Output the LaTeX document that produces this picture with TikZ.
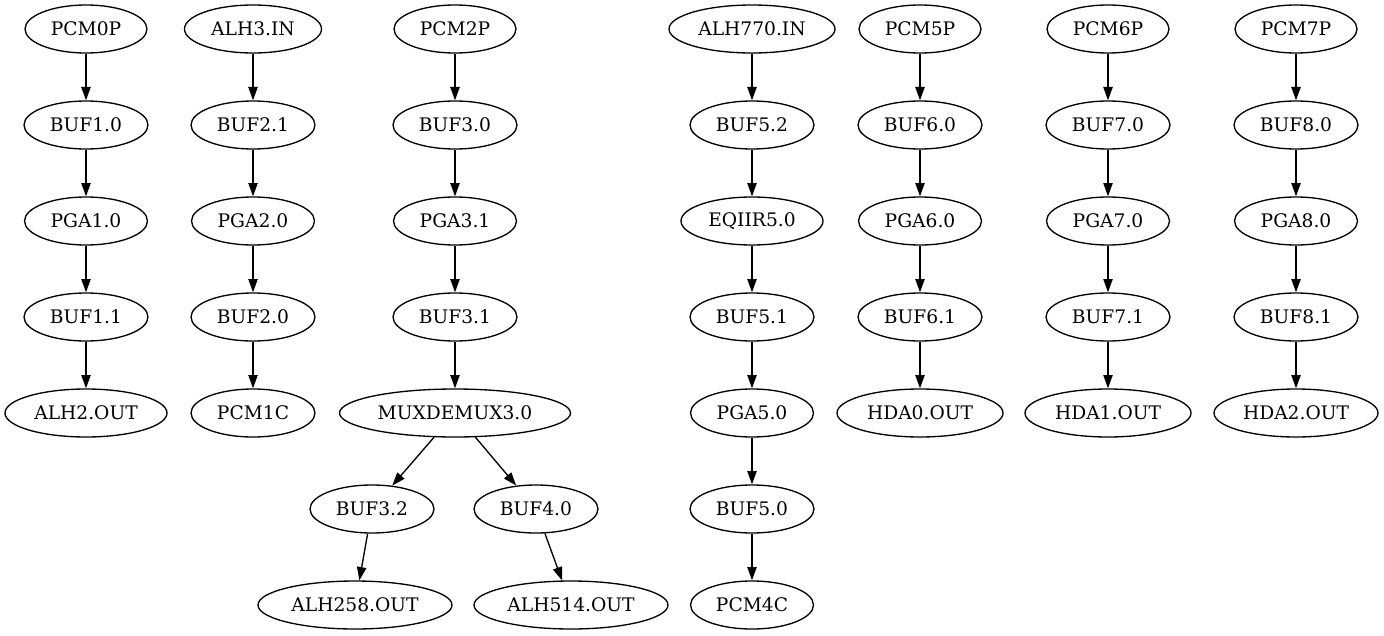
\documentclass[tikz,border=0pt]{standalone}
\usepackage{fontspec}
\setmainfont{DejaVu Serif}
\usetikzlibrary{shapes.geometric,arrows.meta}
\newcommand\gvnode[5]{\node[gv, minimum width={0.75*#4pt}] (#1) at (#2,#3) {#5};}
\tikzset{
  gv/.style={draw, ellipse, line width=1pt, minimum height=36pt, inner sep=0pt,
    font=\fontsize{14pt}{17pt}\selectfont},
  gvedge/.style={line width=1pt, -{Triangle[length=10pt,width=7pt]}}
}
\begin{document}
\begin{tikzpicture}[x=0.75pt,y=-0.75pt]
\useasboundingbox (0,0) rectangle (1384,635);
% rows
\def\ra{29}\def\rb{125}\def\rc{221}\def\rd{317}\def\re{413}\def\rf{509}\def\rg{605}
% column 1
\gvnode{pcm0p}{86}{\ra}{122}{PCM0P}
\gvnode{buf10}{86}{\rb}{124}{BUF1.0}
\gvnode{pga10}{86}{\rc}{123}{PGA1.0}
\gvnode{buf11}{86}{\rd}{124}{BUF1.1}
\gvnode{alh2out}{86}{\re}{162}{ALH2.OUT}
% column 2
\gvnode{alh3in}{253}{\ra}{137}{ALH3.IN}
\gvnode{buf21}{253}{\rb}{124}{BUF2.1}
\gvnode{pga20}{253}{\rc}{123}{PGA2.0}
\gvnode{buf20}{253}{\rd}{124}{BUF2.0}
\gvnode{pcm1c}{253}{\re}{124}{PCM1C}
% column 3
\gvnode{pcm2p}{455}{\ra}{122}{PCM2P}
\gvnode{buf30}{455}{\rb}{124}{BUF3.0}
\gvnode{pga31}{455}{\rc}{123}{PGA3.1}
\gvnode{buf31}{455}{\rd}{124}{BUF3.1}
\gvnode{mux30}{455}{\re}{231}{MUXDEMUX3.0}
\gvnode{buf32}{372}{\rf}{124}{BUF3.2}
\gvnode{buf40}{536}{\rf}{124}{BUF4.0}
\gvnode{alh258}{355}{\rg}{194}{ALH258.OUT}
\gvnode{alh514}{571}{\rg}{194}{ALH514.OUT}
% column 4
\gvnode{alh770}{752}{\ra}{166}{ALH770.IN}
\gvnode{buf52}{752}{\rb}{124}{BUF5.2}
\gvnode{eqiir}{752}{\rc}{142}{EQIIR5.0}
\gvnode{buf51}{752}{\rd}{124}{BUF5.1}
\gvnode{pga50}{752}{\re}{123}{PGA5.0}
\gvnode{buf50}{752}{\rf}{124}{BUF5.0}
\gvnode{pcm4c}{752}{\rg}{123}{PCM4C}
% column 5
\gvnode{pcm5p}{920}{\ra}{122}{PCM5P}
\gvnode{buf60}{920}{\rb}{124}{BUF6.0}
\gvnode{pga60}{920}{\rc}{123}{PGA6.0}
\gvnode{buf61}{920}{\rd}{124}{BUF6.1}
\gvnode{hda0}{920}{\re}{166}{HDA0.OUT}
% column 6
\gvnode{pcm6p}{1108}{\ra}{122}{PCM6P}
\gvnode{buf70}{1108}{\rb}{124}{BUF7.0}
\gvnode{pga70}{1108}{\rc}{123}{PGA7.0}
\gvnode{buf71}{1108}{\rd}{124}{BUF7.1}
\gvnode{hda1}{1108}{\re}{166}{HDA1.OUT}
% column 7
\gvnode{pcm7p}{1296}{\ra}{122}{PCM7P}
\gvnode{buf80}{1296}{\rb}{124}{BUF8.0}
\gvnode{pga80}{1296}{\rc}{123}{PGA8.0}
\gvnode{buf81}{1296}{\rd}{124}{BUF8.1}
\gvnode{hda2}{1296}{\re}{164}{HDA2.OUT}
% edges
\draw[gvedge] (pcm0p) -- (buf10);
\draw[gvedge] (buf10) -- (pga10);
\draw[gvedge] (pga10) -- (buf11);
\draw[gvedge] (buf11) -- (alh2out);
\draw[gvedge] (alh3in) -- (buf21);
\draw[gvedge] (buf21) -- (pga20);
\draw[gvedge] (pga20) -- (buf20);
\draw[gvedge] (buf20) -- (pcm1c);
\draw[gvedge] (pcm2p) -- (buf30);
\draw[gvedge] (buf30) -- (pga31);
\draw[gvedge] (pga31) -- (buf31);
\draw[gvedge] (buf31) -- (mux30);
\draw[gvedge] (mux30) -- (buf32);
\draw[gvedge] (mux30) -- (buf40);
\draw[gvedge] (buf32) -- (alh258);
\draw[gvedge] (buf40) -- (alh514);
\draw[gvedge] (alh770) -- (buf52);
\draw[gvedge] (buf52) -- (eqiir);
\draw[gvedge] (eqiir) -- (buf51);
\draw[gvedge] (buf51) -- (pga50);
\draw[gvedge] (pga50) -- (buf50);
\draw[gvedge] (buf50) -- (pcm4c);
\draw[gvedge] (pcm5p) -- (buf60);
\draw[gvedge] (buf60) -- (pga60);
\draw[gvedge] (pga60) -- (buf61);
\draw[gvedge] (buf61) -- (hda0);
\draw[gvedge] (pcm6p) -- (buf70);
\draw[gvedge] (buf70) -- (pga70);
\draw[gvedge] (pga70) -- (buf71);
\draw[gvedge] (buf71) -- (hda1);
\draw[gvedge] (pcm7p) -- (buf80);
\draw[gvedge] (buf80) -- (pga80);
\draw[gvedge] (pga80) -- (buf81);
\draw[gvedge] (buf81) -- (hda2);
\end{tikzpicture}
\end{document}
